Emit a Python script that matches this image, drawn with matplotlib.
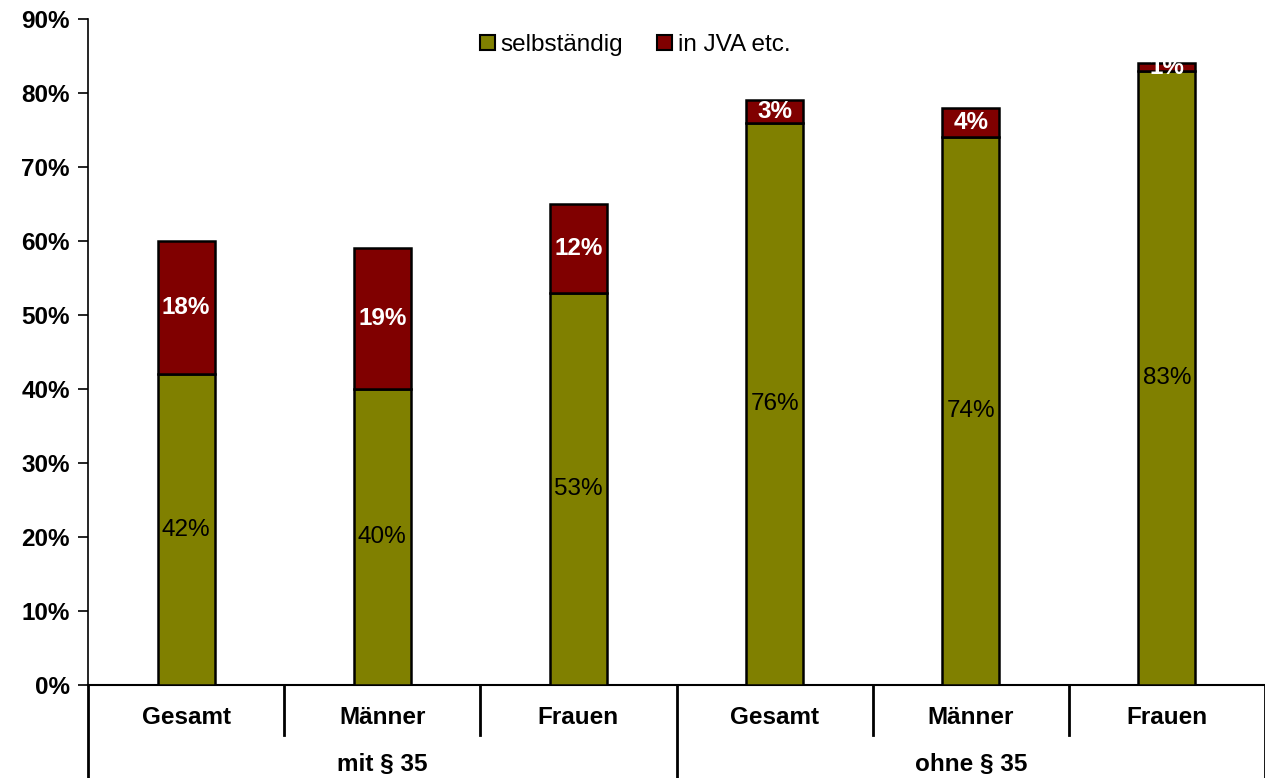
import matplotlib
matplotlib.use('Agg')
import matplotlib.pyplot as plt
from matplotlib.patches import Patch

plt.rcParams['font.family'] = ['Liberation Sans', 'DejaVu Sans']

# data
categories = ['Gesamt', 'Männer', 'Frauen', 'Gesamt', 'Männer', 'Frauen']
groups = ['mit § 35', 'ohne § 35']
selbstaendig = [42, 40, 53, 76, 74, 83]
jva = [18, 19, 12, 3, 4, 1]
yticks = [0, 10, 20, 30, 40, 50, 60, 70, 80, 90]

col_s = '#808000'
col_j = '#800000'

W, H = 1265, 778
fig = plt.figure(figsize=(W / 100, H / 100), dpi=100)
ax = fig.add_axes([88 / W, (H - 685) / H, (W - 88) / W, (685 - 19) / H])

x = list(range(len(categories)))
bw = 0.29
ax.bar(x, selbstaendig, bw, color=col_s, edgecolor='black', linewidth=1.8, zorder=3)
ax.bar(x, jva, bw, bottom=selbstaendig, color=col_j, edgecolor='black', linewidth=1.8, zorder=3)

for i in x:
    ax.text(i, selbstaendig[i] / 2, '%d%%' % selbstaendig[i], ha='center', va='center',
            fontsize=17.5, color='black', zorder=4)
    ax.text(i, selbstaendig[i] + jva[i] / 2, '%d%%' % jva[i], ha='center', va='center',
            fontsize=17.5, color='white', fontweight='bold', zorder=4)

ax.set_xlim(-0.5, len(categories) - 0.5)
ax.set_ylim(0, 90)
ax.set_yticks(yticks)
ax.set_yticklabels(['%d%%' % t for t in yticks], fontsize=17.5, fontweight='bold')
ax.tick_params(axis='y', direction='out', length=7, width=1.2, pad=6)
ax.set_xticks([])
for s in ['top', 'right']:
    ax.spines[s].set_visible(False)
ax.spines['left'].set_linewidth(1.2)
ax.spines['bottom'].set_linewidth(1.5)

# category labels and separators below the axis
tr = ax.get_xaxis_transform()
ax_h = 685 - 19
cat_y = -(717 - 685) / ax_h
grp_y = -(765 - 685) / ax_h
for i, c in enumerate(categories):
    ax.text(i, cat_y, c, transform=tr, ha='center', va='center', fontsize=17.5, fontweight='bold')
for gi, g in enumerate(groups):
    ax.text(gi * 3 + 1, grp_y, g, transform=tr, ha='center', va='center', fontsize=17.5, fontweight='bold')

for xs in [-0.5, 0.5, 1.5, 2.5, 3.5, 4.5, 5.5]:
    if xs in (-0.5, 2.5, 5.5):
        y1 = -(H - 685) / ax_h
    else:
        y1 = -(735 - 685) / ax_h
    ax.plot([xs, xs], [0, y1], transform=tr, color='black', linewidth=2, clip_on=False)

handles = [Patch(facecolor=col_s, edgecolor='black', linewidth=1.5, label='selbständig'),
           Patch(facecolor=col_j, edgecolor='black', linewidth=1.5, label='in JVA etc.')]
ax.legend(handles=handles, loc='center', bbox_to_anchor=(0.465, (685 - 45) / ax_h), ncol=2, frameon=False,
          fontsize=17.5, handlelength=0.6, handleheight=0.6, handletextpad=0.25, columnspacing=1.4)

fig.savefig('out.png', dpi=100)
